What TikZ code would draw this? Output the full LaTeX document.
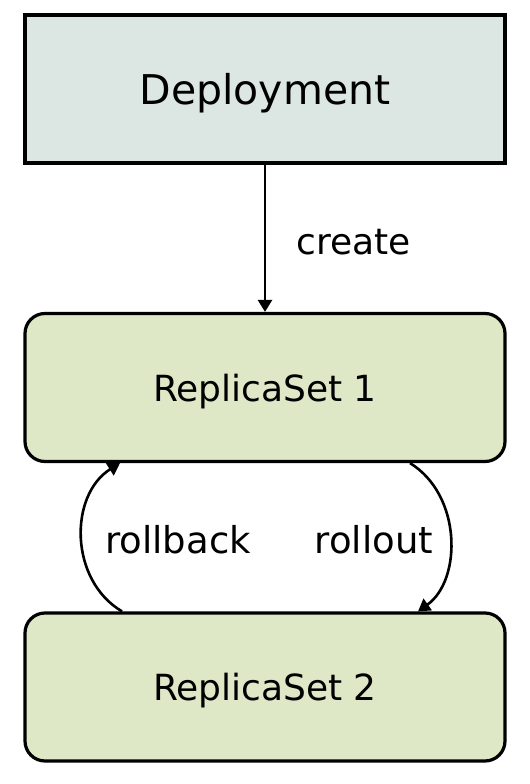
\documentclass[tikz,border=0pt]{standalone}
\usepackage{fontspec}
\setmainfont{DejaVu Sans}
\usepackage{tikz}
\usetikzlibrary{arrows.meta, positioning, calc}

\definecolor{deplfill}{RGB}{220,230,227}
\definecolor{rsfill}{RGB}{222,232,199}

\begin{document}
\begin{tikzpicture}[x=0.5pt, y=0.5pt,
    box/.style={draw=black, line width=1.6pt, minimum width=240pt, minimum height=74pt, inner sep=0pt, text depth=0pt},
    rsbox/.style={box, fill=rsfill, rounded corners=10pt, font=\fontsize{18pt}{21pt}\selectfont},
    lbl/.style={font=\fontsize{18.5pt}{22pt}\selectfont, inner sep=0pt},
    conn/.style={line width=1.3pt, -{Triangle[length=6pt, width=7pt]}}]
    \useasboundingbox (0,0) rectangle (530,784);
    \node[box, fill=deplfill, font=\fontsize{20.5pt}{24pt}\selectfont] (depl) at (265,695) {Deployment};
    \node[rsbox] (rs1) at (265,396.5) {ReplicaSet 1};
    \node[rsbox] (rs2) at (265,97) {ReplicaSet 2};
    % create
    \draw[conn] (depl.south) -- (rs1.north)
      node[lbl, midway, right=15pt, yshift=-2pt, font=\fontsize{18pt}{21pt}\selectfont] (create) {create};
    % rollback / rollout
    \draw[conn] ($(rs2.north)+(-143,0)$) .. controls (69,204) and (69,289) .. ($(rs1.south)+(-145,0)$);
    \draw[conn] ($(rs1.south)+(145,0)$) .. controls (462,289) and (462,204) .. ($(rs2.north)+(153,0)$);
    \node[lbl] (rollback) at (178,244) {rollback};
    \node[lbl] (rollout) at (374,244) {rollout};
  \end{tikzpicture}
\end{document}
